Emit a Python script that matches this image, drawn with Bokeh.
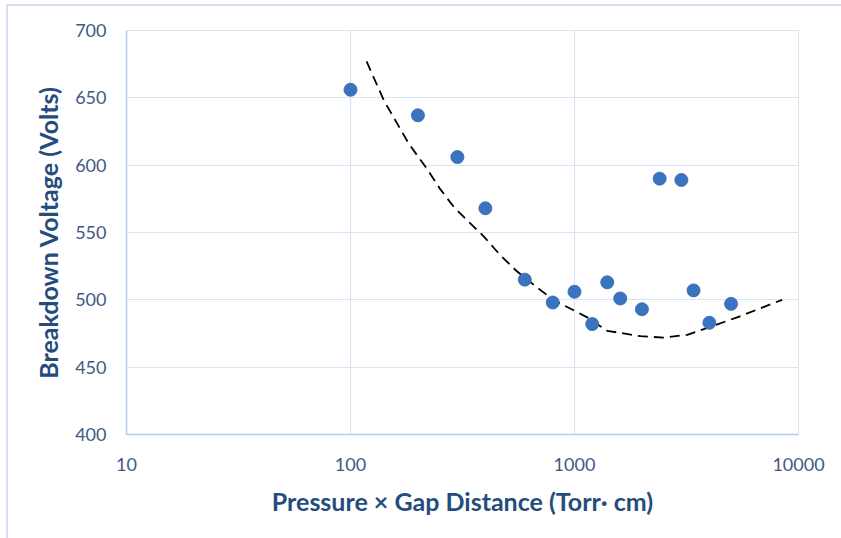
from bokeh.plotting import figure
from bokeh.models import FixedTicker, PrintfTickFormatter, Range1d
from bokeh.embed import file_html
from bokeh.resources import INLINE

# Measured breakdown voltages
pd_values = [100, 200, 300, 400, 600, 800, 1000, 1200, 1400, 1600, 2000, 2400, 3000, 3400, 4000, 5000]
voltage = [656, 637, 606, 568, 515, 498, 506, 482, 513, 501, 493, 590, 589, 507, 483, 497]

# Trend curve (Paschen-type fit), sampled along its length
fit_pd = [118, 141, 182, 220, 252, 289, 337, 394, 467, 555, 682, 805,
          1139, 1400, 1971, 2495, 3186, 4045, 5322, 8453]
fit_v = [677, 648, 616, 597, 582, 569, 558, 547, 533, 521, 509, 500,
         487, 477, 473, 472, 474, 480, 487, 500]

x_ticks = [10, 100, 1000, 10000]
y_ticks = [400, 450, 500, 550, 600, 650, 700]

grid_col = "#dae5f4"
axis_col = "#b9cce9"
label_col = "#3d5a85"
title_col = "#244c7d"
edge_col = "#d5e1f2"
font = "Lato"

p = figure(width=841, height=538, x_axis_type="log",
           x_range=Range1d(10, 10000), y_range=Range1d(400, 700),
           output_backend="svg", toolbar_location=None,
           min_border_left=126, min_border_right=43,
           min_border_top=30, min_border_bottom=104)

# transparent surround so the chart-area edge (left and top) painted behind it shows
p.border_fill_color = None
p.background_fill_color = "white"
p.styles = {
    "background": (f"linear-gradient({edge_col}, {edge_col}) 6px 4px / 2px 100% no-repeat, "
                   f"linear-gradient({edge_col}, {edge_col}) 6px 4px / 100% 2px no-repeat, "
                   "white"),
}
p.outline_line_color = grid_col

p.xgrid.ticker = FixedTicker(ticks=x_ticks)
p.ygrid.ticker = FixedTicker(ticks=y_ticks)
for g in (p.xgrid, p.ygrid):
    g.grid_line_color = grid_col
    g.grid_line_width = 1.2
p.xgrid.minor_grid_line_color = None

p.xaxis.ticker = FixedTicker(ticks=x_ticks, minor_ticks=[])
p.yaxis.ticker = FixedTicker(ticks=y_ticks)
p.xaxis.formatter = PrintfTickFormatter(format="%d")

for ax in (p.xaxis[0], p.yaxis[0]):
    ax.axis_line_color = axis_col
    ax.axis_line_width = 1.5
    ax.major_tick_line_color = None
    ax.minor_tick_line_color = None
    ax.major_label_text_font = font
    ax.major_label_text_font_size = "18px"
    ax.major_label_text_color = label_col
    ax.axis_label_text_font = font
    ax.axis_label_text_font_size = "25px"
    ax.axis_label_text_font_style = "bold"
    ax.axis_label_text_color = title_col

p.xaxis.axis_label = "Pressure × Gap Distance (Torr· cm)"
p.yaxis.axis_label = "Breakdown Voltage (Volts)"
p.xaxis.major_label_standoff = 17
p.xaxis.axis_label_standoff = 12
p.yaxis.major_label_standoff = 14
p.yaxis.axis_label_standoff = 9

# trend line
p.line(fit_pd, fit_v, line_color="black", line_width=1.8, line_dash="10 6")

# soft drop shadow under each marker, then the markers
p.scatter(pd_values, voltage, size=14, fill_color="#000000", fill_alpha=0.10,
          line_color=None)
p.scatter(pd_values, voltage, size=13, fill_color="#3a73bf", line_color="#3569b0",
          line_width=0.8)

open("out.html", "w").write(file_html(p, INLINE))
